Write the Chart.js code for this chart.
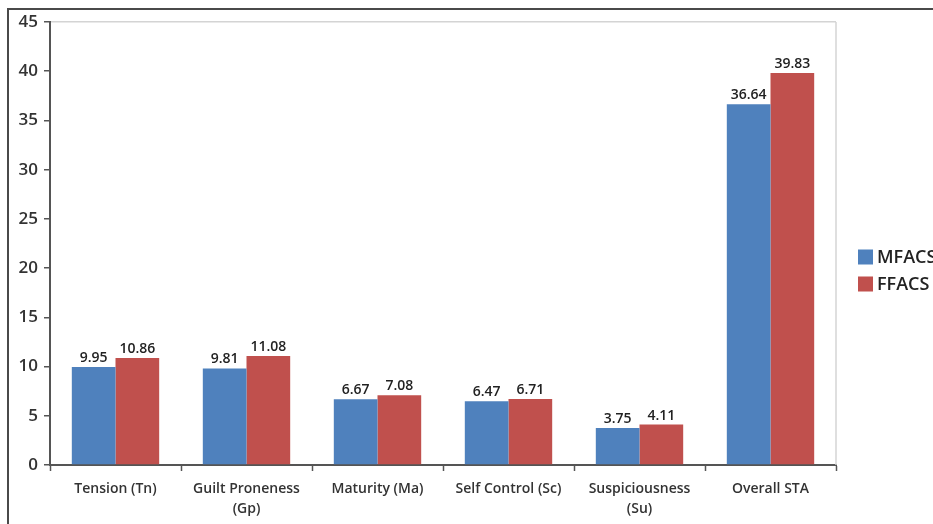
<!DOCTYPE html>
<html>
<head>
<meta charset="utf-8">
<script src="https://cdn.jsdelivr.net/npm/chart.js@4/dist/chart.umd.min.js"></script>
<style>
  html, body { margin: 0; padding: 0; background: #fff; overflow: hidden; }
  #wrap { position: relative; width: 933px; height: 524px; }
  #frame { position: absolute; left: 7px; top: 8px; right: -4px; bottom: -4px;
           border-left: 2px solid #4a4a4a; border-top: 2px solid #4a4a4a; pointer-events: none; }
  canvas { position: absolute; left: 0; top: 0; }
</style>
</head>
<body>
<div id="wrap">
  <canvas id="c" width="933" height="524"></canvas>
  <div id="frame"></div>
</div>
<script>
// Categories, series and axis ticks
const categories = [
  'Tension (Tn)',
  ['Guilt Proneness', '(Gp)'],
  'Maturity (Ma)',
  'Self Control (Sc)',
  ['Suspiciousness', '(Su)'],
  'Overall STA'
];
const seriesNames = ['MFACS', 'FFACS'];
const mfacs = [9.95, 9.81, 6.67, 6.47, 3.75, 36.64];
const ffacs = [10.86, 11.08, 7.08, 6.71, 4.11, 39.83];
const yTicks = [0, 5, 10, 15, 20, 25, 30, 35, 40, 45];

const BLUE = '#4F81BD';
const RED = '#C0504D';
const FONT = '"Open Sans", "DejaVu Sans", sans-serif';

// Light border on the right side of the plot area
const rightEdge = {
  id: 'rightEdge',
  beforeDatasetsDraw(chart) {
    const ctx = chart.ctx;
    const a = chart.chartArea;
    ctx.save();
    ctx.strokeStyle = '#d4d4d4';
    ctx.lineWidth = 1.5;
    ctx.beginPath();
    ctx.moveTo(a.right, a.top);
    ctx.lineTo(a.right, a.bottom);
    ctx.stroke();
    ctx.restore();
  }
};

// Value labels above each bar
const valueLabels = {
  id: 'valueLabels',
  afterDatasetsDraw(chart) {
    const ctx = chart.ctx;
    ctx.save();
    ctx.font = '600 14px ' + FONT;
    ctx.fillStyle = '#222';
    ctx.textAlign = 'center';
    ctx.textBaseline = 'bottom';
    chart.data.datasets.forEach((ds, i) => {
      chart.getDatasetMeta(i).data.forEach((bar, j) => {
        ctx.fillText(ds.data[j].toFixed(2), bar.x, bar.y - 2);
      });
    });
    ctx.restore();
  }
};

// Legend to the right of the plot
const sideLegend = {
  id: 'sideLegend',
  afterDraw(chart) {
    const ctx = chart.ctx;
    const area = chart.chartArea;
    const x = area.right + 22;
    const midY = (area.top + area.bottom) / 2;
    const rowH = 27;
    ctx.save();
    ctx.font = '600 18px ' + FONT;
    ctx.textBaseline = 'middle';
    chart.data.datasets.forEach((ds, i) => {
      const y = midY + (i - 0.5) * rowH + 27;
      ctx.fillStyle = ds.backgroundColor;
      ctx.fillRect(x, y - 7.5, 15, 15);
      ctx.fillStyle = '#222';
      ctx.fillText(ds.label, x + 19, y + 1);
    });
    ctx.restore();
  }
};

new Chart(document.getElementById('c'), {
  type: 'bar',
  data: {
    labels: categories,
    datasets: [
      { label: seriesNames[0], data: mfacs, backgroundColor: BLUE, borderWidth: 0 },
      { label: seriesNames[1], data: ffacs, backgroundColor: RED, borderWidth: 0 }
    ]
  },
  options: {
    responsive: false,
    animation: false,
    devicePixelRatio: 1,
    layout: { padding: { left: 0, right: 97, top: 22, bottom: 0 } },
    datasets: { bar: { categoryPercentage: 0.667, barPercentage: 1.0 } },
    plugins: { legend: { display: false }, tooltip: { enabled: false } },
    scales: {
      x: {
        offset: true,
        grid: {
          offset: true,
          drawOnChartArea: false,
          tickColor: '#555',
          tickLength: 6,
          tickWidth: 1.5
        },
        border: { color: '#555', width: 2 },
        ticks: {
          color: '#333',
          font: { family: FONT, size: 14, weight: '600', lineHeight: 1.45 },
          padding: 8,
          maxRotation: 0,
          autoSkip: false
        },
        afterFit: (s) => { s.height = 59; }
      },
      y: {
        min: 0,
        max: 45,
        afterBuildTicks: (s) => { s.ticks = yTicks.map(v => ({ value: v })); },
        grid: {
          color: (c) => (c.tick && c.tick.value === 45 ? '#d4d4d4' : 'rgba(0,0,0,0)'),
          lineWidth: 1.5,
          tickColor: '#555',
          tickLength: 6,
          tickWidth: 1.5
        },
        border: { color: '#555', width: 2 },
        ticks: {
          color: '#333',
          font: { family: FONT, size: 17, weight: '600' },
          padding: 6
        },
        afterFit: (s) => { s.width = 50; }
      }
    }
  },
  plugins: [rightEdge, valueLabels, sideLegend]
});
</script>
</body>
</html>
